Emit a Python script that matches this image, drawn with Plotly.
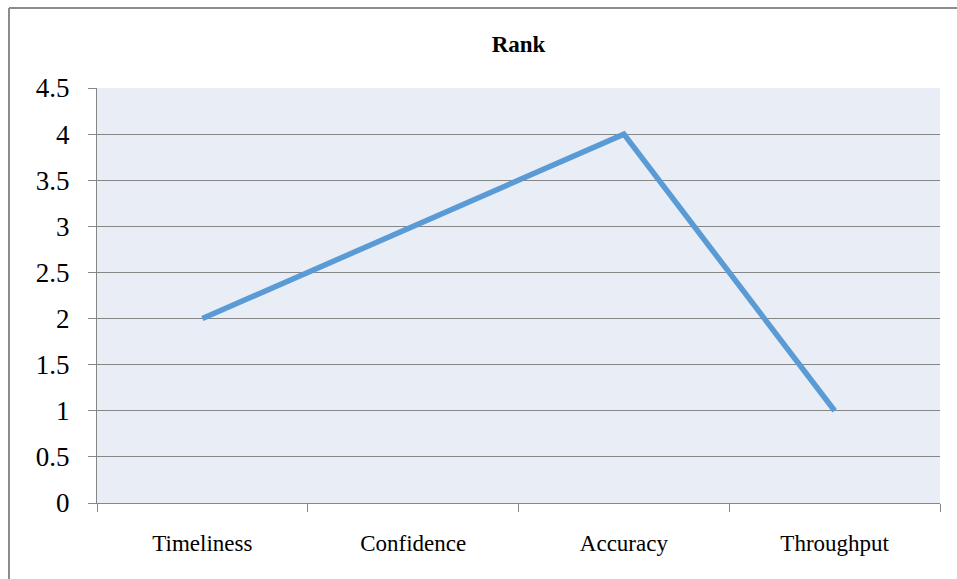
import plotly.graph_objects as go

categories = ["Timeliness", "Confidence", "Accuracy", "Throughput"]
rank_values = [2, 3, 4, 1]
y_ticks = [0, 0.5, 1, 1.5, 2, 2.5, 3, 3.5, 4, 4.5]
y_tick_labels = ["0", "0.5", "1", "1.5", "2", "2.5", "3", "3.5", "4", "4.5"]

W, H = 957, 579
L, R, T, B = 97, 17, 88, 76
pw, ph = W - L - R, H - T - B

def px_to_paper_x(px):
    return (px - L) / pw

def px_to_paper_y(py):
    return (H - B - py) / ph

fig = go.Figure()
fig.add_trace(go.Scatter(
    x=categories, y=rank_values, mode="lines",
    line=dict(color="#5B9BD5", width=5.5),
    hoverinfo="x+y", showlegend=False,
))

fig.update_layout(
    width=W, height=H,
    margin=dict(l=L, r=R, t=T, b=B),
    paper_bgcolor="white",
    plot_bgcolor="#E9EDF6",
    font=dict(family="Liberation Serif, Times New Roman, serif", color="black"),
    title=dict(text="<b>Rank</b>", x=0.5, xanchor="center", xref="paper",
               y=(H - 44) / H, yanchor="middle", font=dict(size=23)),
    xaxis=dict(
        type="category", tickson="boundaries", ticks="outside", ticklen=8,
        tickcolor="#868686", tickwidth=1, showgrid=False,
        showline=True, linecolor="#868686", linewidth=1,
        tickfont=dict(size=23), range=[-0.5, 3.5], ticklabelstandoff=19,
    ),
    yaxis=dict(
        range=[0, 4.5], tickvals=y_ticks, ticktext=y_tick_labels,
        ticks="outside", ticklen=8, tickcolor="#868686", tickwidth=1,
        showgrid=True, gridcolor="#868686", gridwidth=1,
        showline=True, linecolor="#868686", linewidth=1,
        zeroline=False, tickfont=dict(size=27), ticklabelstandoff=13,
    ),
)

# outer frame (gray), extends beyond the right/bottom edge of the window
x0 = px_to_paper_x(9)
x1 = px_to_paper_x(1000)
y0 = px_to_paper_y(8)
y1 = px_to_paper_y(620)
fig.add_shape(type="line", xref="paper", yref="paper", x0=x0, x1=x1, y0=y0, y1=y0,
              line=dict(color="#8C8C8C", width=2))
fig.add_shape(type="line", xref="paper", yref="paper", x0=x0, x1=x0, y0=y0, y1=y1,
              line=dict(color="#8C8C8C", width=2))

fig.write_html("out.html")
